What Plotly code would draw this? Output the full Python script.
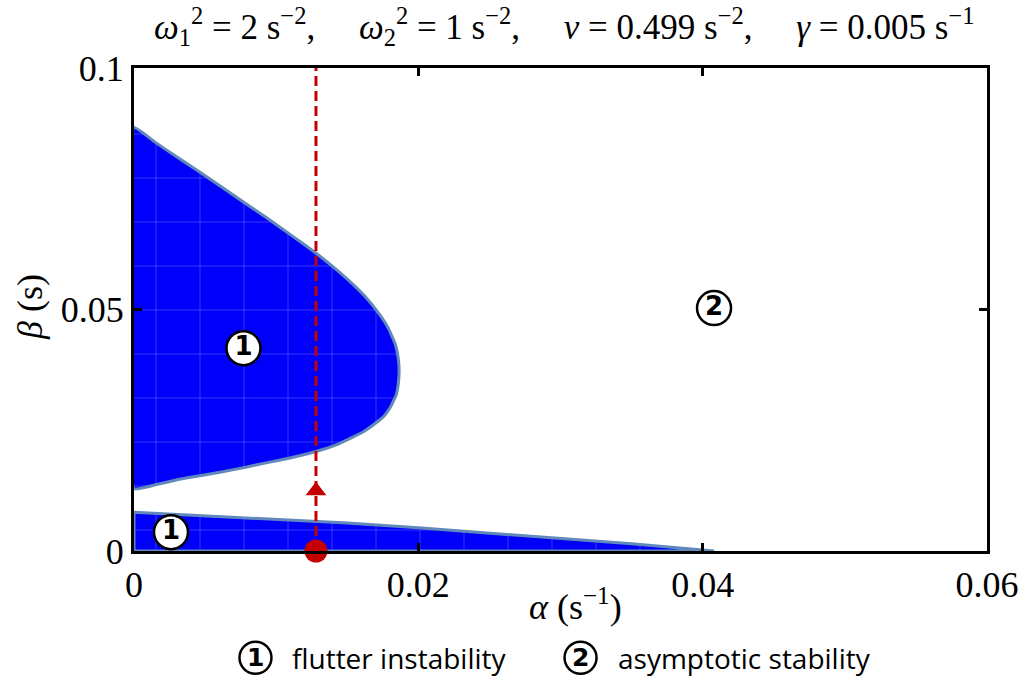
import plotly.graph_objects as go

# Boundary of the upper flutter region (alpha in 1/s, beta in s), traced from top to bottom
upper_alpha = [0.0, 0.00150, 0.00310, 0.00464, 0.00624, 0.00777, 0.00938, 0.01105,
               0.01279, 0.01426, 0.01544, 0.01635, 0.01719, 0.01788, 0.01837, 0.01858,
               0.01865, 0.01858, 0.01844, 0.01802, 0.01761, 0.01705, 0.01614, 0.01440,
               0.01279, 0.01105, 0.00938, 0.00777, 0.00624, 0.00464, 0.00310, 0.00150, 0.0]
upper_beta = [0.0877, 0.0846, 0.0814, 0.0784, 0.0752, 0.0721, 0.0689, 0.0654,
              0.0617, 0.0582, 0.0551, 0.0524, 0.0493, 0.0462, 0.0429, 0.0400,
              0.0373, 0.0344, 0.0323, 0.0297, 0.0280, 0.0266, 0.0247, 0.0222,
              0.0206, 0.0193, 0.0183, 0.0173, 0.0164, 0.0156, 0.0148, 0.0137, 0.0129]

# Boundary of the lower flutter region
lower_alpha = [0.0, 0.005, 0.010, 0.015, 0.020, 0.025, 0.030, 0.035, 0.0408]
lower_beta = [0.0080, 0.0073, 0.0066, 0.0058, 0.0048, 0.0037, 0.0026, 0.0015, 0.0]

# Vertical path at fixed alpha
path_alpha = 0.0128
path_beta = [0.0, 0.1]
arrow_beta = 0.0125

# Region labels
label_alpha = [0.0077, 0.0026, 0.0408]
label_beta = [0.0420, 0.0039, 0.0503]
label_text = ["1", "1", "2"]

# Key below the axes
key_num = ["1", "2"]
key_text = ["flutter instability", "asymptotic stability"]

x_ticks = [0, 0.02, 0.04, 0.06]
x_ticktext = ["0", "0.02", "0.04", "0.06"]
y_ticks = [0, 0.05, 0.1]
y_ticktext = ["0", "0.05", "0.1"]

FILL = "rgb(0,0,250)"
MESH = "rgb(80,80,255)"
EDGE = "#6189bb"
RED = "#c40000"
SERIF = "Liberation Serif"
SANS = "Open Sans"
DIGIT = "DejaVu Sans"

fig = go.Figure()

mesh = dict(shape="+", fgcolor=MESH, bgcolor=FILL, size=44, solidity=0.03, fillmode="replace")

fig.add_trace(go.Scatter(
    x=upper_alpha + [upper_alpha[0]], y=upper_beta + [upper_beta[0]],
    mode="lines", fill="toself", fillcolor=FILL, fillpattern=mesh,
    line=dict(color=EDGE, width=3, shape="spline", smoothing=0.3),
    hoverinfo="skip", showlegend=False))

fig.add_trace(go.Scatter(
    x=lower_alpha + [0.0, 0.0], y=lower_beta + [0.0, lower_beta[0]],
    mode="lines", fill="toself", fillcolor=FILL, fillpattern=mesh,
    line=dict(color=EDGE, width=3),
    hoverinfo="skip", showlegend=False))

fig.add_trace(go.Scatter(
    x=[path_alpha, path_alpha], y=path_beta, mode="lines",
    line=dict(color=RED, width=3, dash="10px,5px"),
    hoverinfo="skip", showlegend=False))

fig.add_trace(go.Scatter(
    x=[path_alpha], y=[arrow_beta], mode="markers",
    marker=dict(symbol="triangle-up", size=18, color=RED, line=dict(width=0)),
    hoverinfo="skip", showlegend=False))

fig.add_trace(go.Scatter(
    x=[path_alpha], y=[path_beta[0]], mode="markers", cliponaxis=False,
    marker=dict(symbol="circle", size=23, color=RED, line=dict(width=0)),
    hoverinfo="skip", showlegend=False))

fig.add_trace(go.Scatter(
    x=label_alpha, y=label_beta, mode="markers+text", cliponaxis=False,
    text=["<b>%s</b>" % t for t in label_text], textposition="middle center",
    textfont=dict(family=DIGIT, size=26, color="black"),
    marker=dict(symbol="circle", size=34, color="white",
                line=dict(color="black", width=2.5)),
    hoverinfo="skip", showlegend=False))

axis_common = dict(
    showgrid=False, zeroline=False, showline=True, linecolor="black",
    linewidth=3, mirror="allticks", ticks="inside", ticklen=8, tickwidth=2.5,
    tickcolor="black", tickfont=dict(family=SERIF, size=36, color="black"))

fig.update_xaxes(range=[0, 0.06], tickvals=x_ticks, ticktext=x_ticktext, **axis_common)
fig.update_yaxes(range=[0, 0.1], tickvals=y_ticks, ticktext=y_ticktext, **axis_common)

title = ("<i>ω</i><sub>1</sub><sup>2</sup> = 2 s<sup>−2</sup>,     "
         "<i>ω</i><sub>2</sub><sup>2</sup> = 1 s<sup>−2</sup>,     "
         "<i>ν</i> = 0.499 s<sup>−2</sup>,     "
         "<i>γ</i> = 0.005 s<sup>−1</sup>")

annotations = [
    dict(text=title, x=0.505, y=1.0, xref="paper", yref="paper",
         xanchor="center", yanchor="bottom", yshift=15, showarrow=False,
         font=dict(family=SERIF, size=35, color="black")),
    dict(text="<i>α</i> (s<sup>−1</sup>)", x=0.518, y=-0.11, xref="paper", yref="paper",
         xanchor="center", yanchor="middle", showarrow=False,
         font=dict(family=SERIF, size=36, color="black")),
    dict(text="<i>β</i> (s)", x=-0.122, y=0.505, xref="paper", yref="paper",
         xanchor="center", yanchor="middle", textangle=-90, showarrow=False,
         font=dict(family=SERIF, size=36, color="black")),
]

shapes = []
key_x = [0.1424, 0.5235]
key_y = -0.221
for xp, num, desc in zip(key_x, key_num, key_text):
    shapes.append(dict(type="circle", xref="paper", yref="paper",
                       xsizemode="pixel", ysizemode="pixel",
                       xanchor=xp, yanchor=key_y,
                       x0=-16, x1=16, y0=-16, y1=16,
                       line=dict(color="black", width=2.5), fillcolor="white"))
    annotations.append(dict(text="<b>%s</b>" % num, x=xp, y=key_y, xref="paper", yref="paper",
                            xanchor="center", yanchor="middle", showarrow=False,
                            font=dict(family=DIGIT, size=25, color="black")))
    annotations.append(dict(text=desc, x=xp, y=key_y, xref="paper", yref="paper",
                            xanchor="left", yanchor="middle", xshift=35, showarrow=False,
                            font=dict(family=SANS, size=28, color="black")))

fig.update_layout(
    width=1031, height=677,
    margin=dict(l=133.5, r=37, t=67.5, b=125.5),
    paper_bgcolor="white", plot_bgcolor="white",
    annotations=annotations, shapes=shapes,
)

fig.write_html("out.html")
